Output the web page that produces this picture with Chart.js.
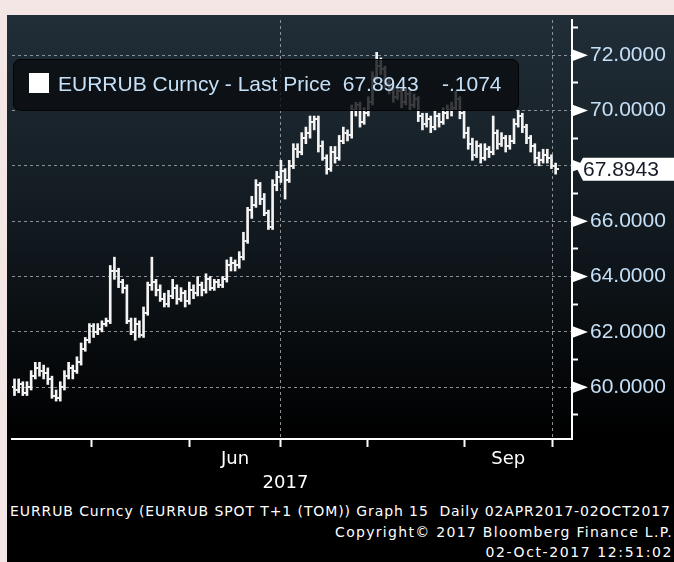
<!DOCTYPE html>
<html>
<head>
<meta charset="utf-8">
<title>EURRUB Curncy</title>
<script src="https://cdn.jsdelivr.net/npm/chart.js@4.4.0/dist/chart.umd.min.js"></script>
<style>
  html, body { margin: 0; padding: 0; }
  body { width: 674px; height: 562px; background: #f5e6e6; position: relative; overflow: hidden;
         font-family: "Liberation Sans", Arial, sans-serif; }
  #panel { position: absolute; left: 7px; top: 15px; width: 667px; height: 547px;
           background: linear-gradient(to bottom, #212e38 0px, #121a20 210px, #000 424px, #000 100%); }
  #chart { position: absolute; left: 0; top: 0; }
  #legend { position: absolute; left: 6px; top: 44px; width: 506px; height: 52px; box-sizing: border-box;
            background: rgba(10, 13, 16, 0.8); border: 1px solid #030405; border-radius: 7px; }
  #legend .sq { position: absolute; left: 15px; top: 13px; width: 20px; height: 20px; background: #fff; }
  #legend .txt { position: absolute; left: 44px; top: 12px; font-size: 21px; line-height: 24px;
                 color: #c5e0f7; white-space: pre; }
  .foot { position: absolute; color: #fff; font-family: "DejaVu Sans", sans-serif;
          font-size: 14px; line-height: 16px; white-space: pre; }
</style>
</head>
<body>
<div id="panel">
  <canvas id="chart" width="667" height="485"></canvas>
  <div id="legend"><div class="sq"></div><div class="txt" id="legendText"></div></div>
  <div class="foot" style="left:3px; top:488px; letter-spacing:0.9px;">EURRUB Curncy (EURRUB SPOT T+1 (TOM)) Graph 15  Daily 02APR2017-02OCT2017</div>
  <div class="foot" style="right:1px; top:509px; letter-spacing:1.3px;">Copyright© 2017 Bloomberg Finance L.P.</div>
  <div class="foot" style="right:1px; top:529px; letter-spacing:1.6px;">02-Oct-2017 12:51:02</div>
</div>
<script>
// daily EURRUB bars, 03 Apr 2017 .. 02 Oct 2017 (index = trading day)
const openPx = [
  60.0, 59.9, 60.1, 59.8, 60.0, 60.4, 60.7, 60.6, 60.5, 60.3,
  59.7, 59.6, 60.0, 60.4, 60.7, 60.6, 60.9, 61.4, 61.7, 62.2,
  62.0, 62.1, 62.3, 62.4, 64.2, 64.2, 63.8, 63.6, 62.4, 62.0,
  62.3, 61.9, 62.7, 63.7, 63.8, 63.5, 63.2, 63.0, 63.3, 63.6,
  63.2, 63.4, 63.1, 63.5, 63.4, 63.7, 63.5, 63.9, 63.6, 63.8,
  63.7, 63.9, 64.4, 64.5, 64.4, 64.7, 65.3, 66.4, 66.6, 67.3,
  66.8, 66.3, 65.8, 67.3, 67.6, 67.8, 67.5, 68.0, 68.6, 68.5,
  69.0, 69.2, 69.6, 69.7, 68.7, 68.3, 67.9, 68.5, 68.3, 68.9,
  69.2, 69.1, 70.0, 70.2, 69.6, 69.9, 70.3, 71.2, 71.6, 71.5,
  71.0, 70.8, 70.5, 70.7, 70.3, 70.6, 70.2, 70.4, 69.8, 69.5,
  69.7, 69.4, 69.8, 69.6, 69.9, 70.0, 70.1, 70.4, 69.9, 69.2,
  68.8, 68.4, 68.7, 68.3, 68.6, 68.5, 69.2, 68.8, 69.0, 68.7,
  68.9, 69.5, 69.8, 69.4, 69.0, 68.7, 68.3, 68.2, 68.4, 68.3,
  68.0
];
const highPx = [
  60.3, 60.3, 60.2, 60.2, 60.6, 60.9, 60.9, 60.8, 60.7, 60.4,
  59.9, 60.2, 60.6, 60.9, 60.8, 61.1, 61.6, 61.8, 62.3, 62.3,
  62.3, 62.4, 62.5, 64.4, 64.7, 64.3, 63.9, 63.7, 62.5, 62.5,
  62.4, 62.9, 63.8, 64.7, 63.9, 63.7, 63.4, 63.5, 63.9, 63.7,
  63.6, 63.5, 63.8, 63.7, 64.0, 63.8, 64.1, 64.0, 63.9, 63.9,
  64.0, 64.6, 64.7, 64.6, 64.9, 65.6, 66.5, 66.9, 67.5, 67.4,
  67.0, 66.4, 67.5, 67.8, 68.2, 67.9, 68.2, 68.8, 68.8, 69.2,
  69.4, 69.8, 69.8, 69.8, 68.9, 68.4, 68.7, 68.7, 69.1, 69.4,
  69.3, 70.2, 70.3, 70.3, 70.1, 70.5, 71.4, 72.1, 71.9, 71.6,
  71.2, 70.9, 70.9, 70.8, 70.8, 70.7, 70.6, 70.5, 69.9, 69.9,
  69.8, 70.0, 69.9, 70.1, 70.2, 70.3, 70.7, 70.5, 70.0, 69.4,
  69.0, 68.9, 68.8, 68.8, 68.7, 69.8, 69.3, 69.2, 69.1, 69.1,
  69.7, 70.0, 69.9, 69.5, 69.1, 68.8, 68.5, 68.6, 68.6, 68.4,
  68.1
];
const lowPx = [
  59.7, 59.8, 59.7, 59.7, 59.9, 60.3, 60.4, 60.3, 60.1, 59.6,
  59.5, 59.5, 59.9, 60.3, 60.3, 60.5, 60.8, 61.3, 61.6, 61.8,
  61.9, 62.0, 62.2, 62.3, 63.9, 63.6, 63.4, 62.3, 61.9, 61.7,
  61.8, 61.8, 62.6, 63.5, 63.3, 63.1, 62.9, 62.9, 63.2, 63.0,
  63.1, 62.9, 63.0, 63.2, 63.3, 63.3, 63.4, 63.5, 63.5, 63.6,
  63.6, 63.8, 64.2, 64.2, 64.3, 64.6, 65.2, 66.1, 66.5, 66.6,
  66.2, 65.7, 65.7, 67.1, 67.4, 66.8, 67.4, 67.9, 68.3, 68.4,
  68.8, 69.0, 69.3, 68.5, 68.2, 67.7, 67.8, 68.1, 68.2, 68.8,
  68.9, 69.0, 69.8, 69.4, 69.5, 69.8, 70.2, 71.1, 71.3, 70.8,
  70.6, 70.3, 70.4, 70.1, 70.2, 70.0, 70.1, 69.6, 69.3, 69.4,
  69.2, 69.3, 69.4, 69.5, 69.7, 69.8, 70.0, 69.7, 69.0, 68.6,
  68.2, 68.3, 68.1, 68.2, 68.3, 68.4, 68.6, 68.7, 68.5, 68.6,
  68.8, 69.4, 69.2, 68.8, 68.5, 68.1, 68.0, 68.1, 68.1, 67.9,
  67.7
];
const closePx = [
  59.9, 60.1, 59.8, 60.0, 60.4, 60.7, 60.6, 60.5, 60.3, 59.7,
  59.6, 60.0, 60.4, 60.7, 60.6, 60.9, 61.4, 61.7, 62.2, 62.0,
  62.1, 62.3, 62.4, 64.2, 64.2, 63.8, 63.6, 62.4, 62.0, 62.3,
  61.9, 62.7, 63.7, 63.8, 63.5, 63.2, 63.0, 63.3, 63.6, 63.2,
  63.4, 63.1, 63.5, 63.4, 63.7, 63.5, 63.9, 63.6, 63.8, 63.7,
  63.9, 64.4, 64.5, 64.4, 64.7, 65.3, 66.4, 66.6, 67.3, 66.8,
  66.3, 65.8, 67.3, 67.6, 67.8, 67.5, 68.0, 68.6, 68.5, 69.0,
  69.2, 69.6, 69.7, 68.7, 68.3, 67.9, 68.5, 68.3, 68.9, 69.2,
  69.1, 70.0, 70.2, 69.6, 69.9, 70.3, 71.2, 71.6, 71.5, 71.0,
  70.8, 70.5, 70.7, 70.3, 70.6, 70.2, 70.4, 69.8, 69.5, 69.7,
  69.4, 69.8, 69.6, 69.9, 70.0, 70.1, 70.4, 69.9, 69.2, 68.8,
  68.4, 68.7, 68.3, 68.6, 68.5, 69.2, 68.8, 69.0, 68.7, 68.9,
  69.5, 69.8, 69.4, 69.0, 68.7, 68.3, 68.2, 68.4, 68.3, 68.0,
  67.8943
];

const lastPrice = 67.8943;
const netChange = -0.1074;

// x axis: month boundaries (in trading-day units), quarter lines, month/year labels
const monthBounds = [18.6, 42.1, 63.9, 84.9, 108.0, 129.2];
const quarterBounds = [63.9, 129.2];
const periodLabels = ['Jun', ['', '2017'], 'Sep'];
const periodLabelAt = [53.0, 65.1, 118.6];

// y axis
const yTicks = [59, 60, 61, 62, 63, 64, 65, 66, 67, 68, 69, 70, 71, 72, 73];
const yMin = 58.13, yMax = 73.27;

document.getElementById('legendText').textContent =
  'EURRUB Curncy - Last Price  ' + lastPrice.toFixed(4) + '    ' + netChange.toFixed(4).replace('-0.', '-.');

const barColor = '#f4f4f4';
const gridGray = '#8b9096';
const labelBlue = '#c5e0f7';

// little horizontal stubs used as point styles for open (left) and close (right)
function stub(side) {
  const c = document.createElement('canvas');
  c.width = 6; c.height = 2;
  const g = c.getContext('2d');
  g.fillStyle = barColor;
  g.fillRect(side === 'open' ? 0 : 4, 0, 2, 2);
  return c;
}

const axisMarks = {
  id: 'axisMarks',
  afterDraw(chart) {
    const {ctx, chartArea, scales} = chart;
    const y = scales.y;
    const ax = chartArea.right;
    ctx.save();
    ctx.fillStyle = '#ffffff';
    yTicks.filter(v => v % 2 === 0).forEach(v => {
      const py = y.getPixelForValue(v);
      ctx.beginPath();
      ctx.moveTo(ax, py - 6);
      ctx.lineTo(ax + 16, py);
      ctx.lineTo(ax, py + 6);
      ctx.closePath();
      ctx.fill();
    });
    // last price tag
    const py = y.getPixelForValue(lastPrice);
    ctx.beginPath();
    ctx.moveTo(ax + 5, py);
    ctx.lineTo(ax + 11, py - 11);
    ctx.lineTo(chart.width, py - 11);
    ctx.lineTo(chart.width, py + 12);
    ctx.lineTo(ax + 11, py + 12);
    ctx.closePath();
    ctx.fill();
    ctx.fillStyle = '#151c28';
    ctx.font = '21px "Liberation Sans"';
    ctx.textBaseline = 'middle';
    ctx.fillText(lastPrice.toFixed(4), ax + 11, py + 1);
    ctx.restore();
  }
};

const idx = closePx.map((_, i) => i);

new Chart(document.getElementById('chart'), {
  type: 'bar',
  data: {
    datasets: [
      {
        type: 'bar',
        data: idx.map(i => ({x: i, y: [lowPx[i], highPx[i]]})),
        backgroundColor: barColor,
        borderWidth: 0,
        barThickness: 2,
        xAxisID: 'x', yAxisID: 'y'
      },
      {
        type: 'scatter',
        data: idx.map(i => ({x: i, y: openPx[i]})),
        pointStyle: stub('open'),
        pointRadius: 3,
        xAxisID: 'x', yAxisID: 'y'
      },
      {
        type: 'scatter',
        data: idx.map(i => ({x: i, y: closePx[i]})),
        pointStyle: stub('close'),
        pointRadius: 3,
        xAxisID: 'x', yAxisID: 'y'
      }
    ]
  },
  options: {
    responsive: false,
    devicePixelRatio: 1,
    animation: false,
    layout: { padding: 0 },
    plugins: { legend: { display: false }, tooltip: { enabled: false } },
    scales: {
      x: {
        type: 'linear', position: 'bottom', weight: 0, offset: false,
        min: -0.6, max: 133.93,
        afterBuildTicks: s => { s.ticks = monthBounds.map(v => ({value: v})); },
        afterFit: s => { s.height = 2; s.paddingLeft = 0; s.paddingRight = 0; },
        ticks: { display: false },
        grid: {
          offset: false,
          color: c => (c.tick && quarterBounds.includes(c.tick.value)) ? gridGray : 'rgba(0,0,0,0)',
          lineWidth: 1,
          tickColor: '#ffffff', tickWidth: 2, tickLength: 8, tickBorderDash: []
        },
        border: { color: '#ffffff', width: 2, dash: [3, 3] }
      },
      x2: {
        type: 'linear', position: 'bottom', weight: 1, offset: false,
        min: -0.6, max: 133.93,
        afterBuildTicks: s => { s.ticks = periodLabelAt.map(v => ({value: v})); },
        afterFit: s => { s.height = 59; s.paddingLeft = 0; s.paddingRight = 0; },
        ticks: {
          autoSkip: false, maxRotation: 0, padding: 6, color: '#ffffff',
          font: { family: '"DejaVu Sans"', size: 18, lineHeight: 1.34 },
          callback: (v, i) => periodLabels[i]
        },
        grid: { display: false, drawTicks: false },
        border: { display: false }
      },
      y: {
        type: 'linear', position: 'right',
        min: yMin, max: yMax,
        afterBuildTicks: s => { s.ticks = yTicks.map(v => ({value: v})); },
        afterFit: s => { s.width = 102; s.paddingTop = 0; s.paddingBottom = 0; },
        ticks: {
          padding: 12, color: labelBlue,
          font: { family: '"Liberation Sans"', size: 21 },
          callback: v => (v % 2 === 0 ? v.toFixed(4) : '')
        },
        grid: {
          color: c => (c.tick && c.tick.value % 2 === 0) ? gridGray : 'rgba(0,0,0,0)',
          lineWidth: 1,
          tickColor: '#ffffff', tickWidth: 2, tickLength: 6, tickBorderDash: []
        },
        border: { color: '#ffffff', width: 2, dash: [3, 3] }
      }
    }
  },
  plugins: [axisMarks]
});
</script>
</body>
</html>
